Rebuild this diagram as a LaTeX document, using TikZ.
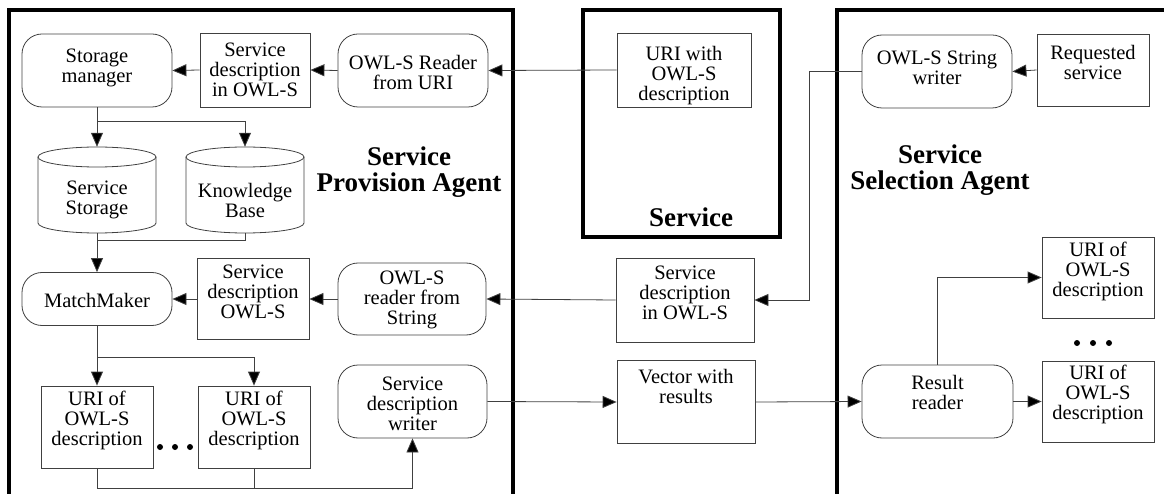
\documentclass[tikz,border=0pt]{standalone}
\usepackage{fontspec}
\setmainfont{Liberation Serif}
\usetikzlibrary{arrows.meta}
\newcommand\txtfont{\fontsize{20.5}{20}\selectfont}
\newcommand\bigfont{\fontsize{27}{26}\selectfont\bfseries}
\begin{document}
\begin{tikzpicture}[x=1pt,y=-1pt,
  box/.style={draw=black!75,line width=0.8pt,inner sep=0pt},
  rbox/.style={box,rounded corners=20pt},
  txt/.style={inner sep=0pt,align=center,font=\txtfont},
  lbl/.style={inner sep=0pt,align=center,font=\bigfont},
  hole/.style={inner sep=0pt},
  conn/.style={draw=black!75,line width=0.8pt},
  arr/.style={conn,-{Triangle[length=14pt,width=12pt,fill=black]}},
  agent/.style={line width=3.5pt,black,line cap=rect},
  cyl/.style={draw=black!75,line width=0.8pt}]
\useasboundingbox (0,0) rectangle (1164,494);

% agent frames
\draw[agent] (9,500) -- (9,10) -- (513,10) -- (513,500);
\draw[agent] (583,10) rectangle (780,237);
\draw[agent] (837,500) -- (837,10) -- (1170,10);

\node[lbl] (provL) at (409,172) {Service\\Provision Agent};
\node[lbl] (servL) at (691,217) {Service};
\node[lbl] (selL) at (940,170) {Service\\Selection Agent};

% top row
\node[rbox,minimum width=150,minimum height=73] (storage) at (97,70.5) {};
\node[txt] (storageT) at (97,68) {Storage\\manager};
\node[box,minimum width=110,minimum height=74] (desctop) at (255,70) {};
\node[txt] (desctopT) at (255,70) {Service\\description\\in OWL-S};
\node[rbox,minimum width=150,minimum height=73] (readuri) at (413,70.5) {};
\node[txt] (readuriT) at (413,72) {OWL-S Reader\\from URI};
\node[box,minimum width=134,minimum height=74] (uriwith) at (684,70) {};
\node[txt] (uriwithT) at (684,76) {URI with\\OWL-S\\description};
\node[rbox,minimum width=150,minimum height=73] (sw) at (937,71.5) {};
\node[txt] (swT) at (937,67.5) {OWL-S String\\writer};
\node[box,minimum width=112,minimum height=72] (req) at (1093,70) {};
\node[txt] (reqT) at (1093,62) {Requested\\service};

% cylinders
\node[hole,minimum width=118,minimum height=86] (ss) at (97,190) {};
\draw[cyl] (97,157) ellipse [x radius=59pt,y radius=10pt];
\draw[cyl] (38,157) -- (38,223) arc[start angle=180,end angle=360,x radius=59pt,y radius=10pt] -- (156,157);
\node[txt] (ssT) at (97,200) {Service\\Storage};
\node[hole,minimum width=118,minimum height=86] (kb) at (245,190) {};
\draw[cyl] (245,157) ellipse [x radius=59pt,y radius=10pt];
\draw[cyl] (186,157) -- (186,223) arc[start angle=180,end angle=360,x radius=59pt,y radius=10pt] -- (304,157);
\node[txt] (kbT) at (245,200) {Knowledge\\Base};

% middle row
\node[rbox,minimum width=150,minimum height=53] (mm) at (97,299) {};
\node[txt] (mmT) at (97,300) {MatchMaker};
\node[box,minimum width=112,minimum height=81] (descmid) at (253,299) {};
\node[txt] (descmidT) at (253,292) {Service\\description\\OWL-S};
\node[rbox,minimum width=148,minimum height=72] (readstr) at (412,299) {};
\node[txt] (readstrT) at (412,300) {OWL-S\\reader from\\String};
\node[box,minimum width=138,minimum height=84] (descr) at (685,300) {};
\node[txt] (descrT) at (685,293) {Service\\description\\in OWL-S};

% bottom row
\node[box,minimum width=112,minimum height=82] (uri1) at (97,427) {};
\node[txt] (uri1T) at (97,420) {URI of\\OWL-S\\description};
\node[box,minimum width=112,minimum height=82] (uri2) at (254,427) {};
\node[txt] (uri2T) at (254,420) {URI of\\OWL-S\\description};
\node[rbox,minimum width=149,minimum height=73] (writer) at (412.5,401.5) {};
\node[txt] (writerT) at (412.5,404) {Service\\description\\writer};
\node[box,minimum width=138,minimum height=83] (vector) at (686,402) {};
\node[txt] (vectorT) at (686,386) {Vector with\\results};
\node[rbox,minimum width=151,minimum height=73] (rr) at (937.5,401.5) {};
\node[txt] (rrT) at (937.5,392) {Result\\reader};
\node[box,minimum width=112,minimum height=81] (urit) at (1098,277.5) {};
\node[txt] (uritT) at (1098,271) {URI of\\OWL-S\\description};
\node[box,minimum width=112,minimum height=81] (urib) at (1098,401.5) {};
\node[txt] (uribT) at (1098,394) {URI of\\OWL-S\\description};

% dots
\foreach \x in {160,175,190} \fill (\x,447) circle (3pt);
\foreach \x in {1077,1093,1109} \fill (\x,343) circle (3pt);

% connectors
\draw[arr] (desctop.west) -- (storage.east);
\draw[arr] (readuri.west) -- (desctop.east);
\draw[arr] (uriwith.west) -- (readuri.east);
\draw[arr] (req.west) -- (sw.east);
\coordinate (j1) at (97,121);
\draw[arr] (storage.south) -- (ss.north);
\draw[arr] (j1) -| (kb.north);
\coordinate (j2) at (97,240);
\draw[conn] (kb.south) |- (j2);
\draw[arr] (ss.south) -- (mm.north);
\draw[arr] (descmid.west) -- (mm.east);
\draw[arr] (readstr.west) -- (descmid.east);
\draw[arr] (descr.west) -- (readstr.east);
\coordinate (j3) at (809,71.5);
\draw[arr] (sw.west) -- (j3) |- (descr.east);
\coordinate (j4) at (97,357);
\draw[arr] (mm.south) -- (uri1.north);
\draw[arr] (j4) -| (uri2.north);
\coordinate (j5) at (97,488);
\draw[arr] (uri1.south) -- (j5) -| (writer.south);
\draw[conn] (uri2.south) -- (254,488);
\draw[arr] (writer.east) -- (vector.west);
\draw[arr] (vector.east) -- (rr.west);
\draw[arr] (rr.east) -- (urib.west);
\draw[arr] (rr.north) |- (urit.west);
\end{tikzpicture}
\end{document}
